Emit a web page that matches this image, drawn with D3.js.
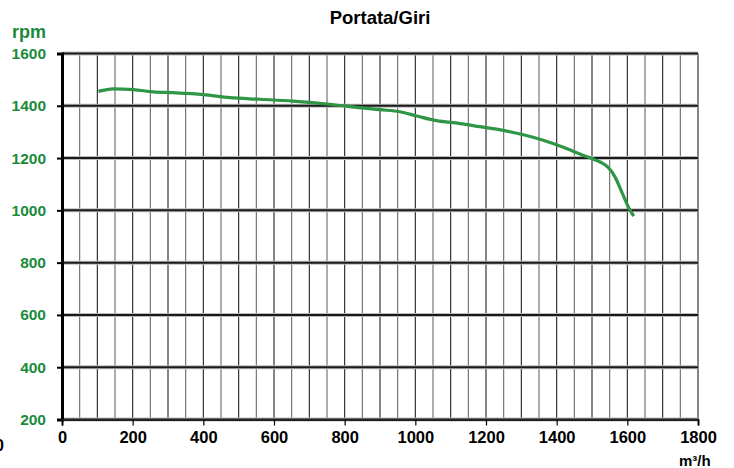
<!DOCTYPE html>
<html>
<head>
<meta charset="utf-8">
<script src="https://cdn.jsdelivr.net/npm/d3@7"></script>
<style>
  body { margin: 0; background: #fff; }
  text { font-family: "Liberation Sans", Arial, sans-serif; font-weight: bold; }
</style>
</head>
<body>
<svg width="734" height="468"></svg>
<script>
// data
const flow = [103, 145, 202, 258, 315, 400, 475, 560, 654, 758, 834, 900, 957, 1004, 1060, 1127, 1183, 1249, 1306, 1362, 1419, 1476, 1500, 1523, 1545, 1565, 1585, 1606, 1618]
const rpm = [1455, 1465, 1462, 1453, 1450, 1443, 1431, 1425, 1418, 1406, 1394, 1385, 1377, 1361, 1343, 1332, 1320, 1306, 1289, 1268, 1241, 1210, 1198, 1185, 1165, 1128, 1068, 1005, 978]
const xTicks = [0, 200, 400, 600, 800, 1000, 1200, 1400, 1600, 1800]
const yTicks = [200, 400, 600, 800, 1000, 1200, 1400, 1600]
const xGrid = d3.range(0, 1801, 50)

const svg = d3.select("svg")
const x = d3.scaleLinear().domain([0, 1800]).range([62, 698])
const y = d3.scaleLinear().domain([200, 1600]).range([419.5, 53.5])

// vertical grid every 50
svg.append("g").selectAll("line").data(xGrid).join("line")
    .attr("x1", d => x(d)).attr("x2", d => x(d))
    .attr("y1", y(1600)).attr("y2", y(200))
    .attr("stroke", (d, i) => i % 2 ? "#6a6a6a" : "#222")
    .attr("stroke-width", 1.1)

// horizontal grid every 200
svg.append("g").selectAll("line").data(yTicks).join("line")
    .attr("x1", x(0)).attr("x2", x(1800))
    .attr("y1", d => y(d)).attr("y2", d => y(d))
    .attr("stroke", "#bbb").attr("stroke-width", 4)
svg.append("g").selectAll("line").data(yTicks).join("line")
    .attr("x1", x(0)).attr("x2", x(1800))
    .attr("y1", d => y(d)).attr("y2", d => y(d))
    .attr("stroke", "#1a1a1a").attr("stroke-width", 2)

// y axis
const yAxis = svg.append("g").attr("transform", "translate(" + x(0) + ",0)")
    .call(d3.axisLeft(y).tickValues(yTicks).tickFormat(d3.format("d")).tickSize(5).tickPadding(11))
yAxis.select(".domain").attr("stroke", "#000").attr("stroke-width", 3)
yAxis.selectAll(".tick line").attr("stroke", "#000").attr("stroke-width", 2)
yAxis.selectAll(".tick text").attr("fill", "#1a8a3c").attr("font-size", 15.5)
    .attr("font-family", "Liberation Sans").attr("font-weight", "bold")

// x axis
const xAxis = svg.append("g").attr("transform", "translate(0," + y(200) + ")")
    .call(d3.axisBottom(x).tickValues(xTicks).tickFormat(d3.format("d")).tickSize(6).tickPadding(6))
xAxis.select(".domain").attr("stroke", "#222").attr("stroke-width", 2)
xAxis.selectAll(".tick line").attr("stroke", "#000").attr("stroke-width", 1.2)
xAxis.selectAll(".tick text").attr("fill", "#000").attr("font-size", 16.5)
    .attr("font-family", "Liberation Sans").attr("font-weight", "bold")

// curve
const line = d3.line().x((d, i) => x(flow[i])).y(d => y(d)).curve(d3.curveMonotoneX)
svg.append("path").datum(rpm)
    .attr("d", line)
    .attr("fill", "none")
    .attr("stroke", "#2f9646")
    .attr("stroke-width", 3.2)
    .attr("stroke-linejoin", "round")

// texts
svg.append("text").attr("x", 380).attr("y", 24).attr("text-anchor", "middle")
    .attr("font-size", 18.5).attr("fill", "#000").text("Portata/Giri")
svg.append("text").attr("x", 12).attr("y", 38)
    .attr("font-size", 18).attr("fill", "#1a8a3c").text("rpm")
svg.append("text").attr("x", 679).attr("y", 466)
    .attr("font-size", 15).attr("fill", "#000").text("m³/h")
svg.append("text").attr("x", -5).attr("y", 451)
    .attr("font-size", 16).attr("fill", "#000").text("0")
</script>
</body>
</html>
